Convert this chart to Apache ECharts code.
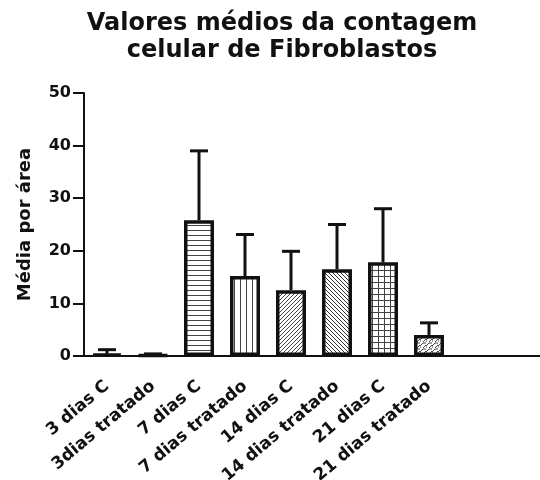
<!DOCTYPE html>
<html><head><meta charset="utf-8">
<script src="https://cdn.jsdelivr.net/npm/echarts@6/dist/echarts.min.js"></script>
<style>html,body{margin:0;padding:0;background:#fff}#c{width:540px;height:480px}</style>
</head><body><div id="c"></div>
<script>
const categories = ['3 dias C', '3dias tratado', '7 dias C', '7 dias tratado', '14 dias C', '14 dias tratado', '21 dias C', '21 dias tratado', '', ''];
const means = [0.4, 0.2, 25.8, 15.2, 12.5, 16.5, 17.8, 4.0];
const upperErr = [1.2, 0.4, 39.0, 23.1, 19.9, 25.0, 28.0, 6.3];
const yTicks = [0, 10, 20, 30, 40, 50];
const patternKinds = ['solid', 'dots', 'hlines', 'vlines', 'diagF', 'diagB', 'grid', 'brick'];

function makePattern(kind) {
  const c = document.createElement('canvas');
  const s = kind === 'grid' ? 6 : (kind === 'hlines' ? 5 : (kind === 'vlines' ? 6 : (kind === 'brick' ? 6 : 4)));
  c.width = s; c.height = s;
  const g = c.getContext('2d');
  g.fillStyle = '#fff'; g.fillRect(0, 0, s, s);
  g.strokeStyle = '#444'; g.lineWidth = 1;
  if (kind === 'solid') { g.fillStyle = '#222'; g.fillRect(0, 0, s, s); }
  else if (kind === 'dots') { g.fillStyle = '#666'; g.fillRect(0, 0, 1, 1); }
  else if (kind === 'hlines') { g.beginPath(); g.moveTo(0, 0.5); g.lineTo(s, 0.5); g.stroke(); }
  else if (kind === 'vlines') { g.beginPath(); g.moveTo(0.5, 0); g.lineTo(0.5, s); g.stroke(); }
  else if (kind === 'grid') { g.beginPath(); g.moveTo(0, 0.5); g.lineTo(s, 0.5); g.moveTo(0.5, 0); g.lineTo(0.5, s); g.stroke(); }
  else if (kind === 'diagF') { g.beginPath(); g.moveTo(0, s); g.lineTo(s, 0); g.moveTo(-1, 1); g.lineTo(1, -1); g.moveTo(s - 1, s + 1); g.lineTo(s + 1, s - 1); g.stroke(); }
  else if (kind === 'diagB') { g.strokeStyle = '#333'; g.beginPath(); g.moveTo(0, 0); g.lineTo(s, s); g.moveTo(-1, s - 1); g.lineTo(1, s + 1); g.moveTo(s - 1, -1); g.lineTo(s + 1, 1); g.stroke(); }
  else if (kind === 'brick') { g.beginPath(); g.moveTo(0, 4); g.lineTo(3, 1); g.moveTo(3, 6); g.lineTo(6, 3); g.moveTo(3, 1); g.lineTo(6, 1); g.moveTo(0, 4); g.lineTo(0, 6); g.stroke(); }
  return { image: c, repeat: 'repeat' };
}

const FONT = 'DejaVu Sans';
const chart = echarts.init(document.getElementById('c'), null, { renderer: 'canvas' });
chart.setOption({
  animation: false,
  title: {
    text: 'Valores médios da contagem\ncelular de Fibroblastos',
    left: 277, textAlign: 'center', top: 5,
    textStyle: { fontFamily: FONT, fontWeight: 'bold', fontSize: 24, color: '#111', lineHeight: 27 }
  },
  grid: { left: 84, right: -4, top: 93, bottom: 124, containLabel: false, outerBoundsMode: 'none' },
  xAxis: {
    type: 'category', data: categories,
    axisLine: { lineStyle: { color: '#111', width: 2 } },
    axisTick: { alignWithLabel: true, length: 7, lineStyle: { color: '#111', width: 2 } },
    axisLabel: { rotate: 40, interval: 0, margin: 28, fontFamily: FONT, fontWeight: 'bold', fontSize: 17, color: '#111' }
  },
  yAxis: {
    type: 'value', min: yTicks[0], max: yTicks[yTicks.length - 1], interval: 10,
    name: 'Média por área', nameLocation: 'middle', nameGap: 50,
    nameTextStyle: { fontFamily: FONT, fontWeight: 'bold', fontSize: 18, color: '#111' },
    axisLine: { show: true, lineStyle: { color: '#111', width: 2 } },
    axisTick: { show: true, length: 11, lineStyle: { color: '#111', width: 2 } },
    axisLabel: { margin: 13, fontFamily: FONT, fontWeight: 'bold', fontSize: 16, color: '#111' },
    splitLine: { show: false }
  },
  series: [
    {
      type: 'bar', barWidth: 30,
      data: means.map((v, i) => ({ value: v, itemStyle: { color: makePattern(patternKinds[i]) } })),
      itemStyle: { borderColor: '#111', borderWidth: 3.5 }
    },
    {
      type: 'custom', z: 5,
      data: means.map((v, i) => [i, v, upperErr[i]]),
      renderItem: function (params, api) {
        const i = api.value(0);
        const base = api.coord([i, api.value(1)]);
        const top = api.coord([i, api.value(2)]);
        const hw = 9;
        return {
          type: 'group', children: [
            { type: 'line', shape: { x1: base[0], y1: base[1], x2: top[0], y2: top[1] }, style: { stroke: '#111', lineWidth: 3 } },
            { type: 'line', shape: { x1: top[0] - hw, y1: top[1], x2: top[0] + hw, y2: top[1] }, style: { stroke: '#111', lineWidth: 3 } }
          ]
        };
      }
    }
  ]
});
</script></body></html>
